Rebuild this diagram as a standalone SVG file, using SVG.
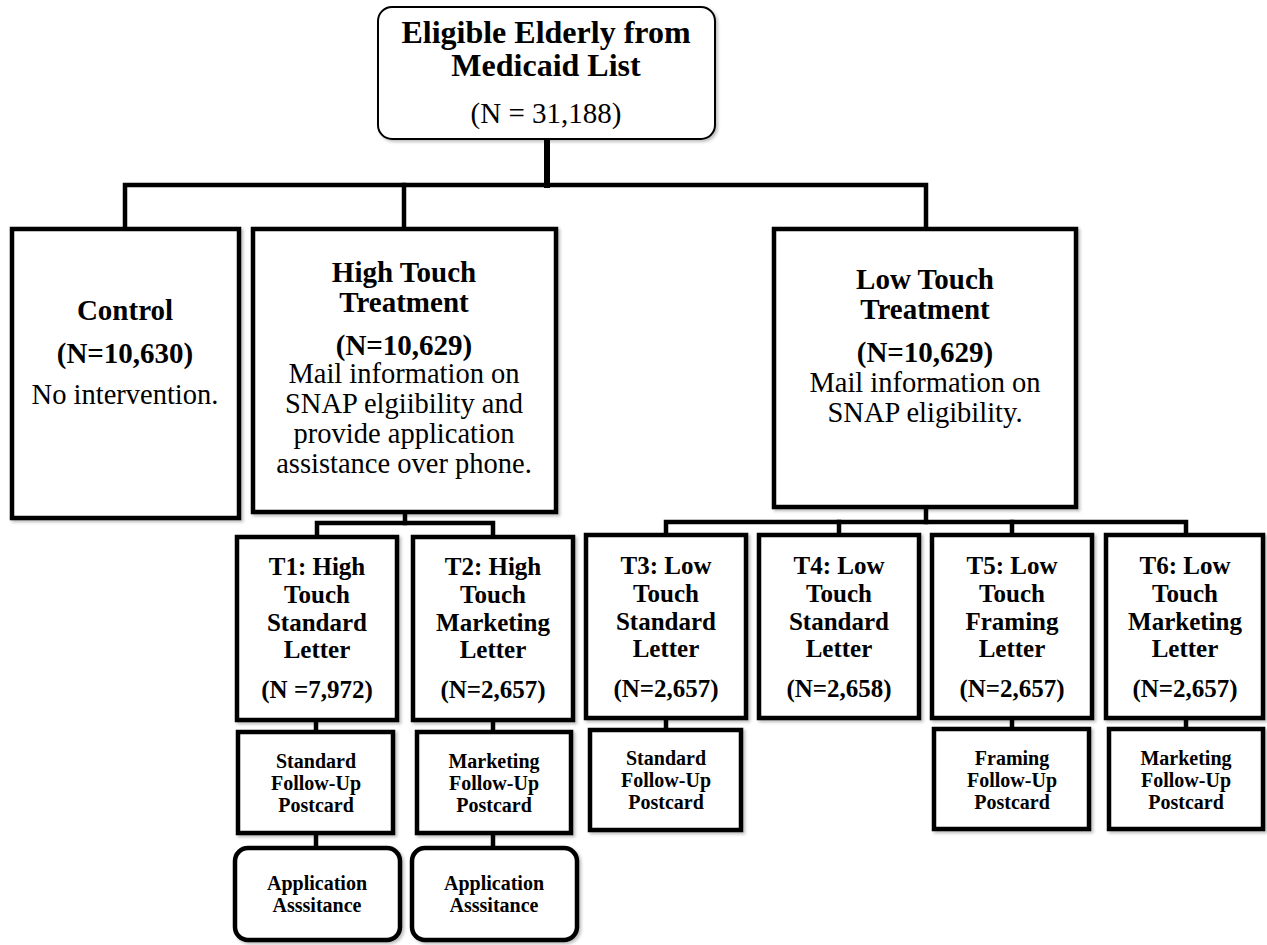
<svg xmlns="http://www.w3.org/2000/svg" width="1267" height="945" viewBox="0 0 1267 945">
<defs>
<filter id="sh" x="-5%" y="-5%" width="115%" height="115%">
<feDropShadow dx="2" dy="2" stdDeviation="1.5" flood-color="#000" flood-opacity="0.25"/>
</filter>
</defs>
<style>
.box{fill:#fff;stroke:#000;stroke-width:4.5;filter:url(#sh)}
.ln{fill:none;stroke:#000;stroke-width:4.5;stroke-linejoin:miter;stroke-linecap:square}
text{font-family:"Liberation Serif","Times New Roman",serif;text-anchor:middle;fill:#000}
.b{font-weight:bold}
.t32{font-size:32px}
.t29{font-size:29px}
.r28{font-size:28.5px}
.t25{font-size:25px}
.t20{font-size:20px}
</style>
<rect width="1267" height="945" fill="#fff"/>
<g id="connectors">
<line class="ln" x1="547" y1="139" x2="547" y2="185" style="stroke-width:6"/>
<polyline class="ln" points="125,229 125,185 926,185 926,229"/>
<line class="ln" x1="404" y1="185" x2="404" y2="229"/>
<line class="ln" x1="405" y1="512" x2="405" y2="523"/>
<polyline class="ln" points="317,537 317,523 493,523 493,537"/>
<line class="ln" x1="926" y1="507" x2="926" y2="522"/>
<polyline class="ln" points="666,535 666,522 1186,522 1186,535"/>
<line class="ln" x1="839" y1="522" x2="839" y2="535"/>
<line class="ln" x1="1012" y1="522" x2="1012" y2="535"/>
<line class="ln" x1="316" y1="720" x2="316" y2="732"/>
<line class="ln" x1="493" y1="720" x2="493" y2="732"/>
<line class="ln" x1="666" y1="718" x2="666" y2="730"/>
<line class="ln" x1="1012" y1="718" x2="1012" y2="729"/>
<line class="ln" x1="1186" y1="718" x2="1186" y2="729"/>
<line class="ln" x1="316" y1="833" x2="316" y2="848"/>
<line class="ln" x1="493" y1="833" x2="493" y2="848"/>
</g>
<g id="root">
<rect class="box" x="378" y="7" width="337" height="132" rx="14" style="stroke-width:2"/>
<text class="b t32" x="546" y="43">Eligible Elderly from</text>
<text class="b t32" x="546" y="76">Medicaid List</text>
<text class="t29" x="546" y="123">(N = 31,188)</text>
</g>
<g id="control">
<rect class="box" x="12" y="229" width="227" height="289"/>
<text class="b t29" x="125" y="320">Control</text>
<text class="b t29" x="125" y="363">(N=10,630)</text>
<text class="r28" x="125" y="404">No intervention.</text>
</g>
<g id="high-touch">
<rect class="box" x="253" y="229" width="303" height="283"/>
<text class="b t29" x="404" y="282">High Touch</text>
<text class="b t29" x="404" y="312">Treatment</text>
<text class="b t29" x="404" y="355">(N=10,629)</text>
<text class="r28" x="404" y="383">Mail information on</text>
<text class="r28" x="404" y="413">SNAP elgiibility and</text>
<text class="r28" x="404" y="443">provide application</text>
<text class="r28" x="404" y="473">assistance over phone.</text>
</g>
<g id="low-touch">
<rect class="box" x="774" y="229" width="302" height="278"/>
<text class="b t29" x="925" y="289">Low Touch</text>
<text class="b t29" x="925" y="319">Treatment</text>
<text class="b t29" x="925" y="362">(N=10,629)</text>
<text class="r28" x="925" y="392">Mail information on</text>
<text class="r28" x="925" y="422">SNAP eligibility.</text>
</g>
<g id="t1">
<rect class="box" x="237" y="537" width="160" height="183"/>
<text class="b t25" x="317" y="575">T1: High</text>
<text class="b t25" x="317" y="603">Touch</text>
<text class="b t25" x="317" y="631">Standard</text>
<text class="b t25" x="317" y="658">Letter</text>
<text class="b t25" x="317" y="698">(N =7,972)</text>
</g>
<g id="t2">
<rect class="box" x="413" y="537" width="160" height="183"/>
<text class="b t25" x="493" y="575">T2: High</text>
<text class="b t25" x="493" y="603">Touch</text>
<text class="b t25" x="493" y="631">Marketing</text>
<text class="b t25" x="493" y="658">Letter</text>
<text class="b t25" x="493" y="698">(N=2,657)</text>
</g>
<g id="t3">
<rect class="box" x="586" y="535" width="160" height="183"/>
<text class="b t25" x="666" y="574">T3: Low</text>
<text class="b t25" x="666" y="602">Touch</text>
<text class="b t25" x="666" y="630">Standard</text>
<text class="b t25" x="666" y="657">Letter</text>
<text class="b t25" x="666" y="697">(N=2,657)</text>
</g>
<g id="t4">
<rect class="box" x="759" y="535" width="160" height="183"/>
<text class="b t25" x="839" y="574">T4: Low</text>
<text class="b t25" x="839" y="602">Touch</text>
<text class="b t25" x="839" y="630">Standard</text>
<text class="b t25" x="839" y="657">Letter</text>
<text class="b t25" x="839" y="697">(N=2,658)</text>
</g>
<g id="t5">
<rect class="box" x="932" y="535" width="160" height="183"/>
<text class="b t25" x="1012" y="574">T5: Low</text>
<text class="b t25" x="1012" y="602">Touch</text>
<text class="b t25" x="1012" y="630">Framing</text>
<text class="b t25" x="1012" y="657">Letter</text>
<text class="b t25" x="1012" y="697">(N=2,657)</text>
</g>
<g id="t6">
<rect class="box" x="1106" y="535" width="157" height="183"/>
<text class="b t25" x="1185" y="574">T6: Low</text>
<text class="b t25" x="1185" y="602">Touch</text>
<text class="b t25" x="1185" y="630">Marketing</text>
<text class="b t25" x="1185" y="657">Letter</text>
<text class="b t25" x="1185" y="697">(N=2,657)</text>
</g>
<g id="t1-postcard">
<rect class="box" x="238" y="732" width="155" height="101"/>
<text class="b t20" x="316" y="768">Standard</text>
<text class="b t20" x="316" y="790">Follow-Up</text>
<text class="b t20" x="316" y="812">Postcard</text>
</g>
<g id="t2-postcard">
<rect class="box" x="417" y="732" width="154" height="101"/>
<text class="b t20" x="494" y="768">Marketing</text>
<text class="b t20" x="494" y="790">Follow-Up</text>
<text class="b t20" x="494" y="812">Postcard</text>
</g>
<g id="t3-postcard">
<rect class="box" x="590" y="730" width="151" height="100"/>
<text class="b t20" x="666" y="765">Standard</text>
<text class="b t20" x="666" y="787">Follow-Up</text>
<text class="b t20" x="666" y="809">Postcard</text>
</g>
<g id="t5-postcard">
<rect class="box" x="934" y="729" width="155" height="100"/>
<text class="b t20" x="1012" y="765">Framing</text>
<text class="b t20" x="1012" y="787">Follow-Up</text>
<text class="b t20" x="1012" y="809">Postcard</text>
</g>
<g id="t6-postcard">
<rect class="box" x="1109" y="729" width="154" height="100"/>
<text class="b t20" x="1186" y="765">Marketing</text>
<text class="b t20" x="1186" y="787">Follow-Up</text>
<text class="b t20" x="1186" y="809">Postcard</text>
</g>
<g id="t1-assistance">
<rect class="box" x="235" y="848" width="165" height="92" rx="13"/>
<text class="b t20" x="317" y="890">Application</text>
<text class="b t20" x="317" y="912">Asssitance</text>
</g>
<g id="t2-assistance">
<rect class="box" x="412" y="848" width="165" height="92" rx="13"/>
<text class="b t20" x="494" y="890">Application</text>
<text class="b t20" x="494" y="912">Asssitance</text>
</g>
</svg>
